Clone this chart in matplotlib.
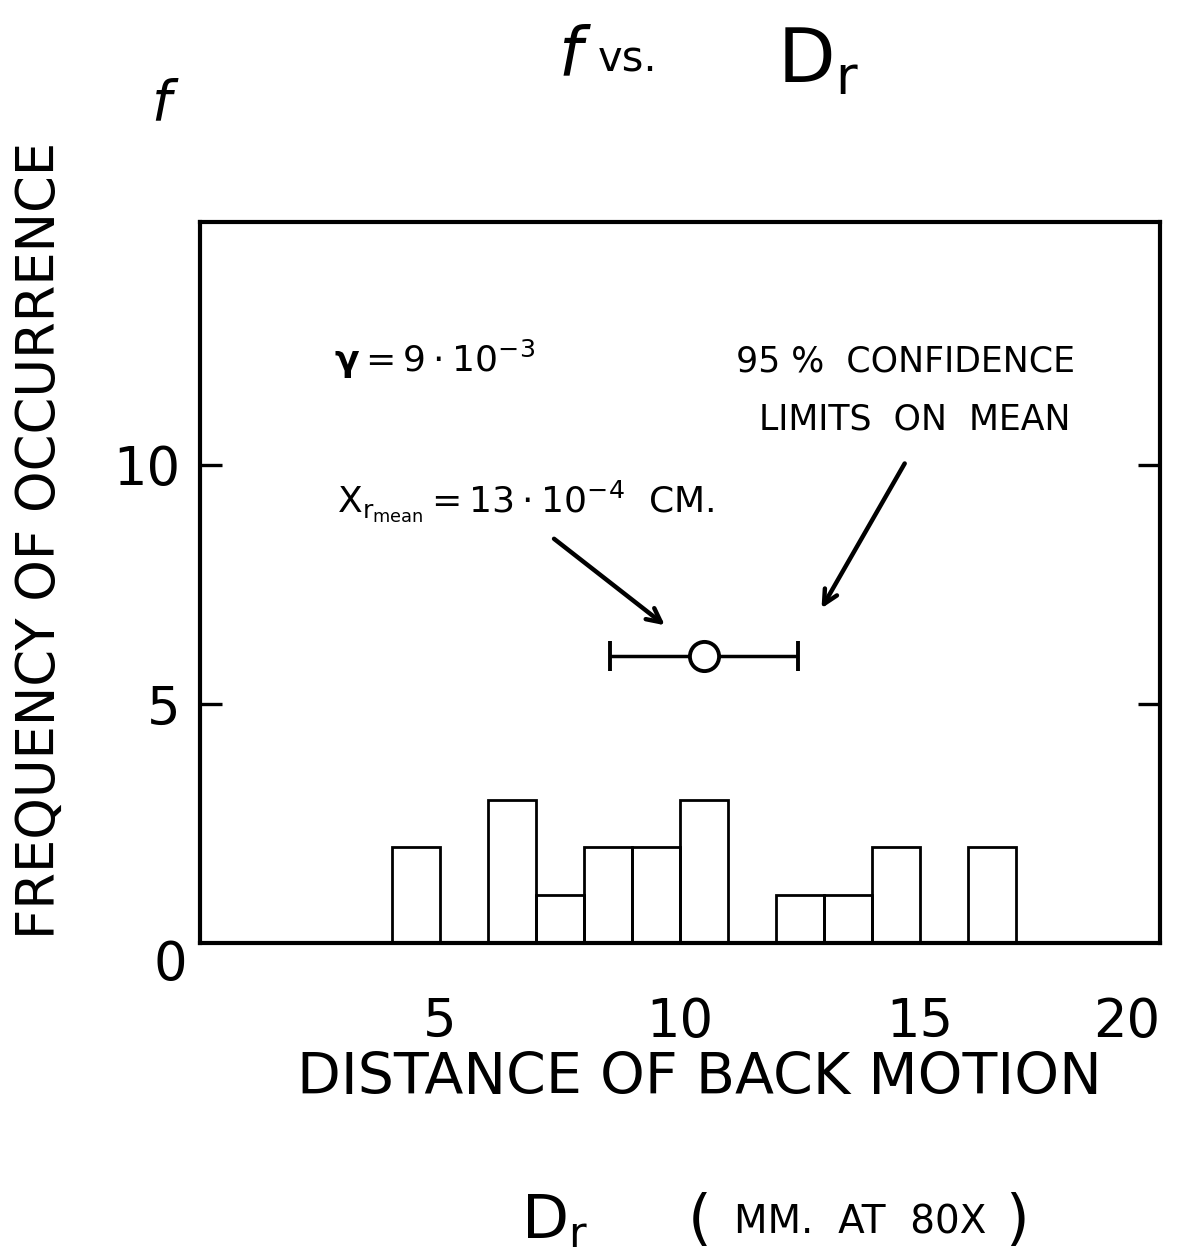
import matplotlib
matplotlib.use('Agg')
import matplotlib.pyplot as plt

# histogram of back-motion distance (mm at 80x)
bin_left = [4, 5, 6, 7, 8, 9, 10, 11, 12, 13, 14, 15, 16]
counts = [2, 0, 3, 1, 2, 2, 3, 0, 1, 1, 2, 0, 2]

# mean and 95% confidence limits
mean_d = 10.5
mean_f = 6
conf_lo = 8.55
conf_hi = 12.45

x_ticks = [5, 10, 15, 20]
x_labels = ['5', '10', '15', '20']
y_ticks = [5, 10]
y_labels = ['5', '10']

plt.rcParams['font.family'] = ['DejaVu Sans']
plt.rcParams['mathtext.fontset'] = 'dejavusans'

W, H = 1195, 1253
fig = plt.figure(figsize=(W / 100, H / 100), dpi=100)
ax = fig.add_axes([200 / W, 1 - 943 / H, 960 / W, 721 / H])

ax.bar(bin_left, counts, width=1, align='edge', fill=False,
       edgecolor='black', linewidth=2)

ax.errorbar([mean_d], [mean_f],
            xerr=[[mean_d - conf_lo], [conf_hi - mean_d]],
            fmt='o', ms=21, mfc='white', mec='black', mew=2.8,
            color='black', elinewidth=2.5, capsize=11, capthick=2.8, zorder=3)

ax.set_xlim(0, 20)
ax.set_ylim(0, 15.08)
ax.set_xticks(x_ticks)
ax.set_xticklabels(x_labels)
ax.get_xticklabels()[-1].set_ha('right')
ax.set_yticks(y_ticks)
ax.set_yticklabels(y_labels)
ax.tick_params(axis='x', length=0, labelsize=38, pad=38)
ax.tick_params(axis='y', direction='in', length=16, width=2.4,
               left=True, right=True, labelsize=38, pad=14)
for s in ax.spines.values():
    s.set_linewidth(3)

# corner zero
ax.text(-0.62, -0.45, '0', fontsize=38, ha='center', va='center', clip_on=False)

# annotations inside the frame
ax.text(2.8, 11.95, r'$\mathbf{\gamma}\mathregular{ = 9 \cdot 10^{-3}}$', fontsize=26,
        ha='left', va='baseline')
ax.text(14.7, 11.95, '95 %  CONFIDENCE', fontsize=25, ha='center', va='baseline')
ax.text(14.9, 10.73, 'LIMITS  ON  MEAN', fontsize=25, ha='center', va='baseline')
ax.text(2.85, 9.02, r'$\mathregular{X_{r_{mean}} = 13 \cdot 10^{-4}\ \ CM.}$',
        fontsize=26, ha='left', va='baseline')

arrow = dict(arrowstyle='->,head_length=1.0,head_width=0.5', lw=3.2, color='black')
ax.annotate('', xy=(9.73, 6.61), xytext=(7.33, 8.49), arrowprops=arrow)
ax.annotate('', xy=(12.92, 6.95), xytext=(14.71, 10.08), arrowprops=arrow)

# title pieces
fig.text(575 / W, 1 - 57 / H, r'$f$', fontsize=48, ha='center', va='center')
fig.text(628 / W, 1 - 60 / H, 'vs.', fontsize=30, ha='center', va='center')
fig.text(818 / W, 1 - 62 / H, r'$\mathregular{D_r}$', fontsize=54,
         ha='center', va='center')

# y label
fig.text(165 / W, 1 - 105 / H, r'$f$', fontsize=40, ha='center', va='center')
fig.text(40 / W, 1 - 540 / H, 'FREQUENCY OF OCCURRENCE', fontsize=38,
         rotation=90, ha='center', va='center')

# x label
fig.text(699 / W, 1 - 1078 / H, 'DISTANCE OF BACK MOTION', fontsize=41,
         ha='center', va='center')
fig.text(555 / W, 1 - 1222 / H, r'$\mathregular{D_r}$', fontsize=44,
         ha='center', va='center')
fig.text(700 / W, 1 - 1222 / H, '(', fontsize=44, ha='center', va='center')
fig.text(860 / W, 1 - 1222 / H, 'MM.  AT  80X', fontsize=28, ha='center', va='center')
fig.text(1017 / W, 1 - 1222 / H, ')', fontsize=44, ha='center', va='center')

fig.savefig('out.png', dpi=100)
